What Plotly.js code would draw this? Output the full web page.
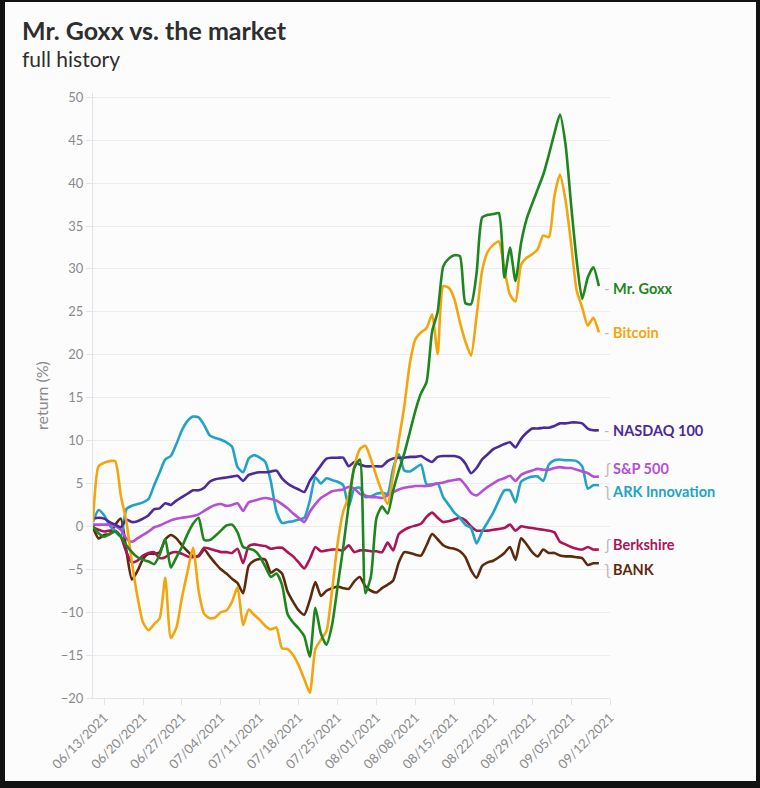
<!DOCTYPE html>
<html><head><meta charset="utf-8">
<script src="https://cdn.plot.ly/plotly-3.0.1.min.js"></script>
<style>
html,body{margin:0;padding:0;background:#121212;width:760px;height:788px;overflow:hidden}
#frame{position:absolute;left:5px;top:2px;width:751px;height:779px;background:#fcfcfc}
#chart{width:751px;height:779px}
</style></head><body><div id="frame"><div id="chart"></div></div>
<script>
const dates = [
"2021-06-11","2021-06-12","2021-06-13","2021-06-14","2021-06-15","2021-06-16","2021-06-17","2021-06-18","2021-06-19","2021-06-20",
"2021-06-21","2021-06-22","2021-06-23","2021-06-24","2021-06-25","2021-06-26","2021-06-27","2021-06-28","2021-06-29","2021-06-30",
"2021-07-01","2021-07-02","2021-07-03","2021-07-04","2021-07-05","2021-07-06","2021-07-07","2021-07-08","2021-07-09","2021-07-10",
"2021-07-11","2021-07-12","2021-07-13","2021-07-14","2021-07-15","2021-07-16","2021-07-17","2021-07-18","2021-07-19","2021-07-20",
"2021-07-21","2021-07-22","2021-07-23","2021-07-24","2021-07-25","2021-07-26","2021-07-27","2021-07-28","2021-07-29","2021-07-30",
"2021-07-31","2021-08-01","2021-08-02","2021-08-03","2021-08-04","2021-08-05","2021-08-06","2021-08-07","2021-08-08","2021-08-09",
"2021-08-10","2021-08-11","2021-08-12","2021-08-13","2021-08-14","2021-08-15","2021-08-16","2021-08-17","2021-08-18","2021-08-19",
"2021-08-20","2021-08-21","2021-08-22","2021-08-23","2021-08-24","2021-08-25","2021-08-26","2021-08-27","2021-08-28","2021-08-29",
"2021-08-30","2021-08-31","2021-09-01","2021-09-02","2021-09-03","2021-09-04","2021-09-05","2021-09-06","2021-09-07","2021-09-08",
"2021-09-09","2021-09-10"];

const mrGoxx = [
0,-0.8,-1.2,-0.9,-0.6,-1.2,-2.2,-3.0,-3.6,-3.9,
-4.1,-4.4,-3.3,-1.5,-4.8,-3.6,-2.4,-0.9,0.3,1.0,
-1.6,-1.6,-1.1,-0.5,0.1,0.2,-0.7,-2.4,-2.6,-2.8,
-3.5,-4.7,-5.9,-5.5,-6.8,-10.2,-11.2,-11.9,-12.8,-15.2,
-9.5,-12.5,-13.8,-11.5,-7.0,-2.5,2.5,6.8,7.8,-7.8,
-5.8,1.0,2.3,1.5,4.2,6.5,8.5,11.0,13.5,15.5,
16.8,22.7,25.0,30.3,31.2,31.6,31.5,26.0,25.9,29.5,
36.0,36.3,36.4,36.5,29.0,32.5,28.6,33.0,35.8,37.6,
39.3,41.0,43.3,45.8,48.0,44.5,37.5,31.0,26.5,29.0,
30.2,28.0];

const bitcoin = [
0.5,7.0,7.4,7.6,7.6,3.6,0.6,-4.2,-8.2,-11.2,
-12.1,-11.4,-10.7,-6.0,-13.0,-11.8,-8.3,-5.3,-2.5,-7.5,
-10.2,-10.7,-10.6,-10.0,-9.8,-8.8,-7.1,-11.5,-9.7,-10.3,
-10.9,-11.6,-12.0,-11.8,-14.2,-14.3,-15.0,-16.2,-17.8,-19.4,
-14.3,-13.2,-12.2,-7.5,-2.0,1.7,3.5,7.0,9.0,9.4,
7.8,5.8,4.0,2.6,6.0,10.0,14.0,19.0,21.8,22.6,
23.1,24.7,20.1,28.0,27.8,26.5,23.8,21.5,19.9,24.5,
29.8,32.0,32.8,33.2,30.0,27.0,26.2,30.5,31.3,31.7,
32.3,33.9,33.7,38.5,41.0,38.0,33.0,27.5,25.5,23.4,
24.3,22.6];

const nasdaq100 = [
0.9,1.0,0.9,0.5,0.2,-0.1,0.8,0.5,0.6,0.9,
1.3,2.0,2.1,2.7,2.5,3.0,3.4,3.8,4.2,4.2,
4.5,5.2,5.5,5.6,5.7,5.8,5.9,5.3,6.0,6.2,
6.3,6.3,6.4,6.5,5.6,5.0,4.6,4.3,4.0,5.3,
6.2,7.1,7.9,8.0,8.0,8.0,7.0,7.5,7.2,7.0,
7.0,7.0,7.0,7.6,7.9,8.0,8.0,8.1,8.1,8.2,
7.8,7.5,8.1,8.2,8.2,8.2,8.0,7.3,6.2,6.8,
7.8,8.4,9.0,9.3,9.6,9.8,9.2,10.2,10.9,11.4,
11.4,11.5,11.5,11.7,12.0,12.0,12.1,12.1,12.0,11.4,
11.2,11.2];

const sp500 = [
0.2,0.2,0.2,0.2,0.0,-0.4,-1.4,-1.8,-1.4,-1.0,
-0.6,-0.1,0.1,0.4,0.7,0.9,1.0,1.1,1.2,1.4,
1.8,2.2,2.5,2.6,2.4,2.5,2.7,1.8,2.8,3.0,
3.2,3.3,3.2,3.0,2.6,2.1,1.5,1.0,0.5,1.7,
2.6,3.3,3.7,4.1,4.2,4.3,4.6,4.4,3.8,3.6,
3.4,3.4,3.3,3.6,4.0,4.3,4.5,4.6,4.7,4.7,
4.7,4.8,5.0,5.1,5.3,5.4,5.5,4.8,3.9,3.6,
4.1,4.6,5.0,5.4,5.6,5.9,5.3,6.0,6.3,6.5,
6.7,6.6,6.6,6.8,6.9,6.8,6.8,6.6,6.4,6.2,
5.8,5.8];

const arkInnovation = [
0.5,1.9,1.3,0.1,-0.6,-1.2,2.0,2.4,2.6,2.8,
3.2,4.8,6.3,7.8,8.2,9.6,11.2,12.3,12.8,12.7,
11.8,10.6,10.3,10.1,9.8,9.3,6.9,6.3,7.9,8.3,
8.0,7.5,5.2,1.7,0.4,0.5,0.6,0.8,1.0,3.0,
5.7,5.0,5.6,5.4,5.2,4.8,2.3,4.4,4.5,3.4,
3.5,3.8,3.9,3.8,6.8,8.4,6.5,6.4,6.8,7.2,
4.9,4.9,5.0,3.4,2.5,1.6,1.0,0.2,-0.2,-2.0,
-0.6,0.5,1.6,3.0,4.2,4.2,2.8,5.2,5.6,5.8,
5.8,5.3,7.2,7.7,7.8,7.7,7.7,7.6,7.0,4.4,
4.8,4.8];

const berkshire = [
-0.1,-0.4,-0.6,-0.5,-0.5,-1.2,-3.0,-4.2,-4.0,-3.4,
-3.1,-3.0,-3.7,-3.6,-3.1,-3.0,-3.2,-3.5,-3.6,-3.4,
-2.5,-2.6,-2.8,-3.0,-3.0,-3.1,-2.6,-4.3,-2.3,-2.1,
-2.2,-2.3,-2.6,-2.5,-2.5,-3.0,-3.5,-4.2,-4.9,-3.8,
-2.4,-2.9,-2.8,-2.7,-2.7,-2.8,-2.2,-3.0,-2.8,-2.8,
-2.9,-2.9,-3.0,-1.9,-2.8,-0.9,-0.4,-0.1,0.1,0.3,
1.1,1.6,1.0,0.5,0.6,0.8,1.0,0.7,0.0,-0.5,
-0.5,-0.5,-0.4,-0.3,-0.2,0.2,-0.5,0.0,-0.1,-0.2,
-0.3,-0.4,-0.5,-0.7,-1.8,-2.1,-2.4,-2.6,-2.7,-2.4,
-2.7,-2.7];

const bank = [
-0.1,-1.4,-1.0,-0.9,0.2,0.9,-2.8,-6.2,-5.2,-3.8,
-3.2,-3.2,-3.0,-1.5,-1.0,-1.4,-2.2,-2.9,-3.5,-3.5,
-2.7,-3.5,-4.3,-5.0,-5.5,-6.1,-6.6,-7.8,-4.6,-4.0,
-3.8,-3.9,-5.4,-5.0,-5.5,-7.6,-8.8,-9.8,-10.3,-8.6,
-6.5,-8.1,-7.5,-7.2,-7.0,-7.2,-7.3,-6.4,-5.9,-7.0,
-7.5,-7.7,-7.2,-6.8,-6.3,-4.2,-3.0,-3.1,-3.3,-3.4,
-2.2,-0.9,-1.5,-2.2,-2.5,-2.6,-2.9,-3.6,-5.1,-6.0,
-4.6,-4.2,-4.0,-3.6,-3.1,-2.4,-3.9,-1.4,-2.1,-3.0,
-3.5,-2.7,-3.1,-3.1,-3.4,-3.5,-3.5,-3.6,-3.7,-4.5,
-4.3,-4.3];

const seriesNames = ["BANK","Berkshire","ARK Innovation","S&P 500","NASDAQ 100","Bitcoin","Mr. Goxx"];
const seriesValues = [bank, berkshire, arkInnovation, sp500, nasdaq100, bitcoin, mrGoxx];
const seriesColors = ["#5e2a0d","#ad1457","#22a3c6","#b450d3","#4b2a9c","#f2a60c","#1e861e"];
// label connector glyph and vertical nudge (px) to avoid overlapping labels
const labelMark = ["ʅ","ʃ","ʅ","ʃ","-","-","-"];
const labelShift = [-6, 5, -6, 8, 0, 0, -2];

const FONT = "Lato, 'Noto Sans', sans-serif";
const traces = seriesValues.map((vals, i) => ({
  type: "scatter", mode: "lines", name: seriesNames[i],
  x: dates, y: vals,
  line: {color: seriesColors[i], width: 2.6, shape: "spline", smoothing: 0.6},
  hoverinfo: "skip"
}));

const annotations = seriesValues.map((vals, i) => ({
  xref: "x", yref: "y", x: dates[dates.length - 1], y: vals[vals.length - 1],
  xanchor: "left", yanchor: "middle", xshift: 3, yshift: labelShift[i],
  showarrow: false,
  text: '<span style="color:#b8b8b8;font-weight:normal">' + labelMark[i] + '</span> <b>' + seriesNames[i] + '</b>',
  font: {family: FONT, size: 14.5, color: seriesColors[i]}
}));

annotations.push({
  xref: "paper", yref: "paper", x: -0.142, y: 1.1045, xanchor: "left", yanchor: "middle",
  showarrow: false, text: "<b>Mr. Goxx vs. the market</b>",
  font: {family: FONT, size: 25, color: "#2e2e2e"}
});
annotations.push({
  xref: "paper", yref: "paper", x: -0.142, y: 1.0565, xanchor: "left", yanchor: "middle",
  showarrow: false, text: "full history",
  font: {family: FONT, size: 21, color: "#2e2e2e"}
});

const layout = {
  width: 751, height: 779,
  margin: {l: 88.3, r: 146.3, t: 90.7, b: 83},
  paper_bgcolor: "#fcfcfc", plot_bgcolor: "#fcfcfc",
  showlegend: false,
  font: {family: FONT, color: "#8a8a8a"},
  xaxis: {
    type: "date", range: ["2021-06-11", "2021-09-12"],
    tick0: "2021-06-13", dtick: 7 * 86400000, tickformat: "%m/%d/%Y",
    tickangle: -45, tickfont: {family: FONT, size: 13, color: "#8a8a8a"},
    showgrid: false, zeroline: false,
    showline: true, linecolor: "#e4e4e8", linewidth: 1,
    ticks: "outside", ticklen: 6, tickcolor: "#e4e4e8"
  },
  yaxis: {
    range: [-20, 50.5], dtick: 5, tick0: 0,
    tickfont: {family: FONT, size: 13, color: "#8a8a8a"},
    gridcolor: "#ececf0", gridwidth: 1, zeroline: false,
    showline: true, linecolor: "#e4e4e8", linewidth: 1,
    ticks: "outside", ticklen: 6, tickcolor: "#e4e4e8",
    title: {text: "return (%)", standoff: 8, font: {family: FONT, size: 16, color: "#8a8a8a"}}
  },
  annotations: annotations
};

Plotly.newPlot("chart", traces, layout, {staticPlot: true, displayModeBar: false});
</script>
</body></html>
